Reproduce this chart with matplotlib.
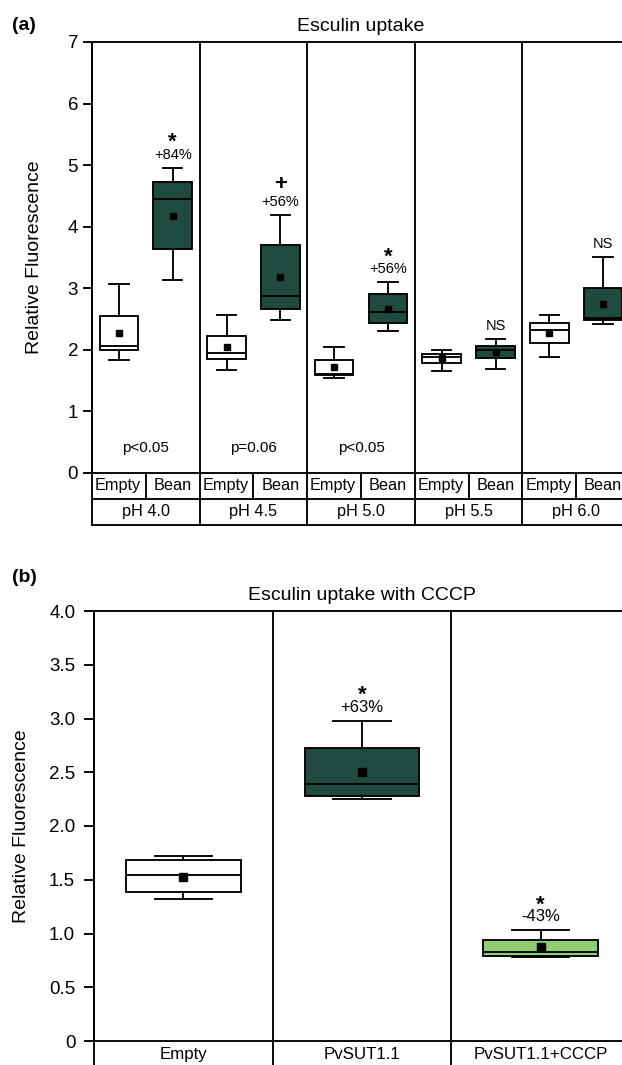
import matplotlib
matplotlib.use("Agg")
import matplotlib.pyplot as plt

plt.rcParams['font.family'] = ['Liberation Sans', 'DejaVu Sans']

# (a) esculin uptake, empty vector vs bean transporter, by pH
ph_labels = ['pH 4.0', 'pH 4.5', 'pH 5.0', 'pH 5.5', 'pH 6.0']
strain_labels = ['Empty', 'Bean']

empty_lo = [1.83, 1.68, 1.55, 1.66, 1.88]
empty_q1 = [1.99, 1.85, 1.59, 1.78, 2.11]
empty_med = [2.07, 1.95, 1.61, 1.89, 2.32]
empty_q3 = [2.55, 2.22, 1.83, 1.93, 2.43]
empty_hi = [3.07, 2.57, 2.05, 1.99, 2.56]
empty_mean = [2.27, 2.04, 1.72, 1.86, 2.27]

bean_lo = [3.14, 2.48, 2.30, 1.69, 2.42]
bean_q1 = [3.64, 2.66, 2.44, 1.86, 2.48]
bean_med = [4.45, 2.87, 2.61, 2.00, 2.51]
bean_q3 = [4.72, 3.70, 2.91, 2.07, 3.00]
bean_hi = [4.96, 4.19, 3.10, 2.17, 3.50]
bean_mean = [4.18, 3.19, 2.67, 1.96, 2.74]

sig_marks = ['*', '+', '*', 'NS', 'NS']
pct_labels = ['+84%', '+56%', '+56%', '', '']
p_labels = ['p<0.05', 'p=0.06', 'p<0.05', '', '']

# (b) esculin uptake with CCCP
cccp_groups = ['Empty', 'PvSUT1.1', 'PvSUT1.1+CCCP']
cccp_lo = [1.32, 2.25, 0.785]
cccp_q1 = [1.39, 2.28, 0.79]
cccp_med = [1.54, 2.39, 0.825]
cccp_q3 = [1.68, 2.73, 0.94]
cccp_hi = [1.72, 2.98, 1.03]
cccp_mean = [1.53, 2.50, 0.87]
cccp_sig = ['', '*', '*']
cccp_pct = ['', '+63%', '-43%']

DARK = '#1e4a3f'
LIGHT = '#8fce72'
LW = 1.35


def box_stats(lo, q1, med, q3, hi, mean):
    return [dict(whislo=a, q1=b, med=c, q3=d, whishi=e, mean=f)
            for a, b, c, d, e, f in zip(lo, q1, med, q3, hi, mean)]


def draw_boxes(ax, stats, positions, width, colors, msize):
    art = ax.bxp(stats, positions=positions, widths=width, patch_artist=True,
                 showmeans=True, showfliers=False, manage_ticks=False,
                 boxprops=dict(linewidth=LW, edgecolor='black'),
                 medianprops=dict(color='black', linewidth=LW),
                 whiskerprops=dict(color='black', linewidth=LW),
                 capprops=dict(color='black', linewidth=LW),
                 meanprops=dict(marker='s', markerfacecolor='black',
                                markeredgecolor='black', markersize=msize))
    for patch, c in zip(art['boxes'], colors):
        patch.set_facecolor(c)


def mark_text(ax, x, y, sig, pct, fs_pct):
    star_off = {'*': 14, '+': 18}
    if sig == 'NS':
        ax.annotate(sig, (x, y), xytext=(0, 7), textcoords='offset points',
                    ha='center', va='baseline', fontsize=fs_pct)
    elif sig:
        ax.annotate(sig, (x, y), xytext=(0, star_off[sig]), textcoords='offset points',
                    ha='center', va='baseline', fontsize=16, fontweight='bold')
    if pct:
        ax.annotate(pct, (x, y), xytext=(0, 6.5), textcoords='offset points',
                    ha='center', va='baseline', fontsize=fs_pct)


fig = plt.figure(figsize=(6.22, 10.65), dpi=100)

# ---------------- panel (a) ----------------
axa = fig.add_axes([92 / 622, 1 - 473 / 1065, (630 - 92) / 622, (473 - 42) / 1065])
n = len(ph_labels)
axa.set_xlim(0, n)
axa.set_ylim(0, 7)

pos_e = [i + 0.25 for i in range(n)]
pos_b = [i + 0.75 for i in range(n)]
draw_boxes(axa, box_stats(empty_lo, empty_q1, empty_med, empty_q3, empty_hi, empty_mean),
           pos_e, 0.36, ['white'] * n, 4.5)
draw_boxes(axa, box_stats(bean_lo, bean_q1, bean_med, bean_q3, bean_hi, bean_mean),
           pos_b, 0.36, [DARK] * n, 4.5)

for i in range(n):
    mark_text(axa, pos_b[i], bean_hi[i], sig_marks[i], pct_labels[i], 10.5)
    if p_labels[i]:
        axa.text(i + 0.5, 0.41, p_labels[i], ha='center', va='center', fontsize=11)

# category table under the axis
r1, r2 = -0.42, -0.845
for i in range(n):
    axa.plot([i + 0.5, i + 0.5], [0, r1], color='black', lw=LW, clip_on=False)
    axa.text(pos_e[i] - 0.01, r1 / 2, strain_labels[0], ha='center', va='center', fontsize=11.7)
    axa.text(pos_b[i], r1 / 2, strain_labels[1], ha='center', va='center', fontsize=11.7)
    axa.text(i + 0.5, (r1 + r2) / 2, ph_labels[i], ha='center', va='center', fontsize=11.7)
for i in range(n + 1):
    axa.plot([i, i], [7, r2], color='black', lw=LW, clip_on=False)
for yy in (r1, r2):
    axa.plot([0, n], [yy, yy], color='black', lw=LW, clip_on=False)

axa.set_xticks([])
axa.set_yticks(range(8))
axa.tick_params(axis='y', direction='out', length=6.5, width=LW, labelsize=13.5, pad=3.5)
for s in axa.spines.values():
    s.set_linewidth(LW)
axa.set_title('Esculin uptake', fontsize=14, pad=8)
axa.set_ylabel('Relative Fluorescence', fontsize=14)
axa.yaxis.set_label_coords((43.5 - 92) / 538, 0.5)
fig.text(12 / 622, 1 - 25 / 1065, '(a)', fontsize=14, fontweight='bold', va='center')

# ---------------- panel (b) ----------------
axb = fig.add_axes([94 / 622, 1 - 1041 / 1065, (630 - 94) / 622, (1041 - 611) / 1065])
m = len(cccp_groups)
axb.set_xlim(-0.5, m - 0.5)
axb.set_ylim(0, 4)
draw_boxes(axb, box_stats(cccp_lo, cccp_q1, cccp_med, cccp_q3, cccp_hi, cccp_mean),
           list(range(m)), 0.64, ['white', DARK, LIGHT], 6)
for i in range(m):
    mark_text(axb, i, cccp_hi[i], cccp_sig[i], cccp_pct[i], 12)
    axb.text(i, -0.13, cccp_groups[i], ha='center', va='center', fontsize=12.2)
for i in range(m + 1):
    axb.plot([i - 0.5, i - 0.5], [4, -0.3], color='black', lw=LW, clip_on=False)

axb.set_xticks([])
yt = [0, 0.5, 1.0, 1.5, 2.0, 2.5, 3.0, 3.5, 4.0]
axb.set_yticks(yt)
axb.set_yticklabels(['0'] + ['%.1f' % v for v in yt[1:]])
axb.tick_params(axis='y', direction='out', length=7.5, width=LW, labelsize=13.5, pad=6)
for s in axb.spines.values():
    s.set_linewidth(LW)
axb.set_title('Esculin uptake with CCCP', fontsize=14, pad=8)
axb.set_ylabel('Relative Fluorescence', fontsize=14)
axb.yaxis.set_label_coords((30 - 94) / 536, 0.5)
fig.text(12 / 622, 1 - 578 / 1065, '(b)', fontsize=14, fontweight='bold', va='center')

fig.savefig('out.png', dpi=100)
